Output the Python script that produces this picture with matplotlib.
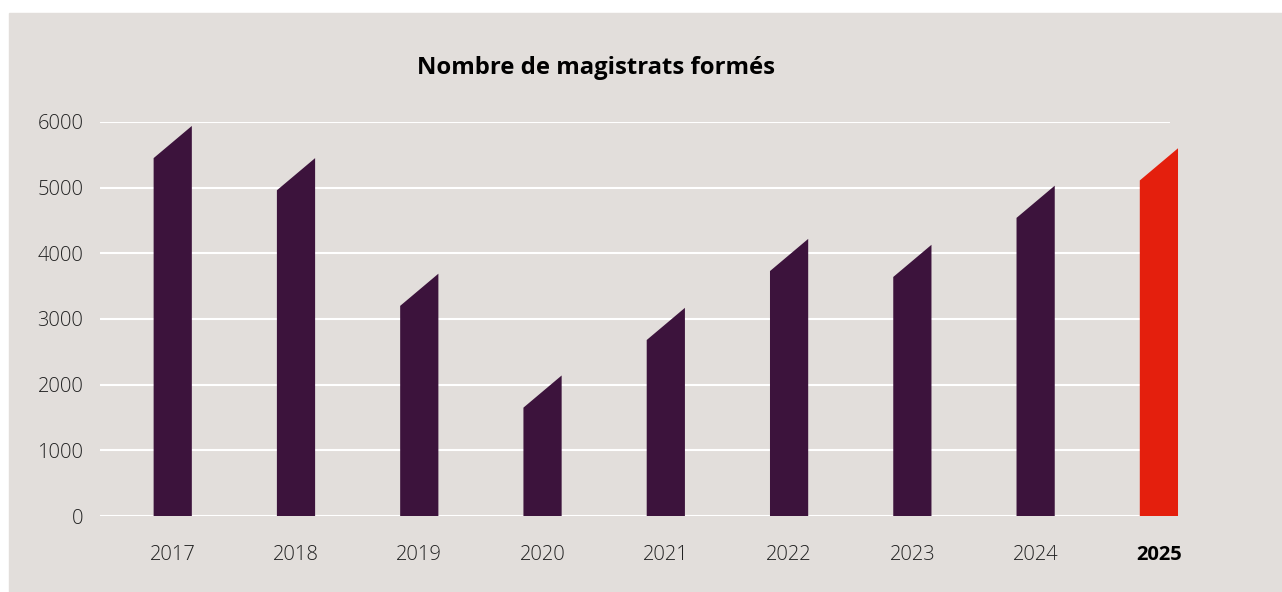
import matplotlib.pyplot as plt
from matplotlib.patches import Rectangle

# data
years = ["2017", "2018", "2019", "2020", "2021", "2022", "2023", "2024", "2025"]
magistrats = [5450, 4960, 3200, 1650, 2680, 3730, 3640, 4540, 5110]
yticks = [0, 1000, 2000, 3000, 4000, 5000, 6000]

bg = "#e2dedb"
purple = "#3c133c"
red = "#e41f0d"
slant = 490
width = 0.31

plt.rcParams['font.family'] = ['Open Sans', 'DejaVu Sans']

fig = plt.figure(figsize=(12.82, 5.92), dpi=100)
fig.patches.append(Rectangle((9 / 1282, 0), 1, 1 - 13 / 592, transform=fig.transFigure,
                             color=bg, zorder=-10))
ax = fig.add_axes([100 / 1282, 76 / 592, 1070 / 1282, 394 / 592])
ax.set_facecolor("none")

for i, v in enumerate(magistrats):
    c = red if i == len(magistrats) - 1 else purple
    x0, x1 = i - width / 2, i + width / 2
    ax.fill([x0, x0, x1, x1], [0, v, v + slant, 0], color=c, lw=0, clip_on=False, zorder=3)

ax.set_xlim(-0.59, 8.09)
ax.set_ylim(0, 6000)
ax.set_yticks(yticks)
ax.set_yticklabels([str(t) for t in yticks], fontsize=14.5, fontweight="light", color="#222222")
ax.set_xticks(range(len(years)))
ax.set_xticklabels(years, fontsize=14.5, fontweight="light", color="#222222")
lab = ax.get_xticklabels()[-1]
lab.set_fontweight("bold")
lab.set_color("black")
ax.tick_params(axis="both", length=0)
ax.tick_params(axis="y", pad=12)
ax.tick_params(axis="x", pad=21)
ax.grid(axis="y", color="white", lw=1.5, zorder=1)
ax.set_axisbelow(True)
for s in ax.spines.values():
    s.set_visible(False)

fig.text(596 / 1282, 1 - 68 / 592, "Nombre de magistrats formés", ha="center", va="center",
         fontsize=17.2, fontweight="bold", color="black")

fig.savefig("out.png", dpi=100)
